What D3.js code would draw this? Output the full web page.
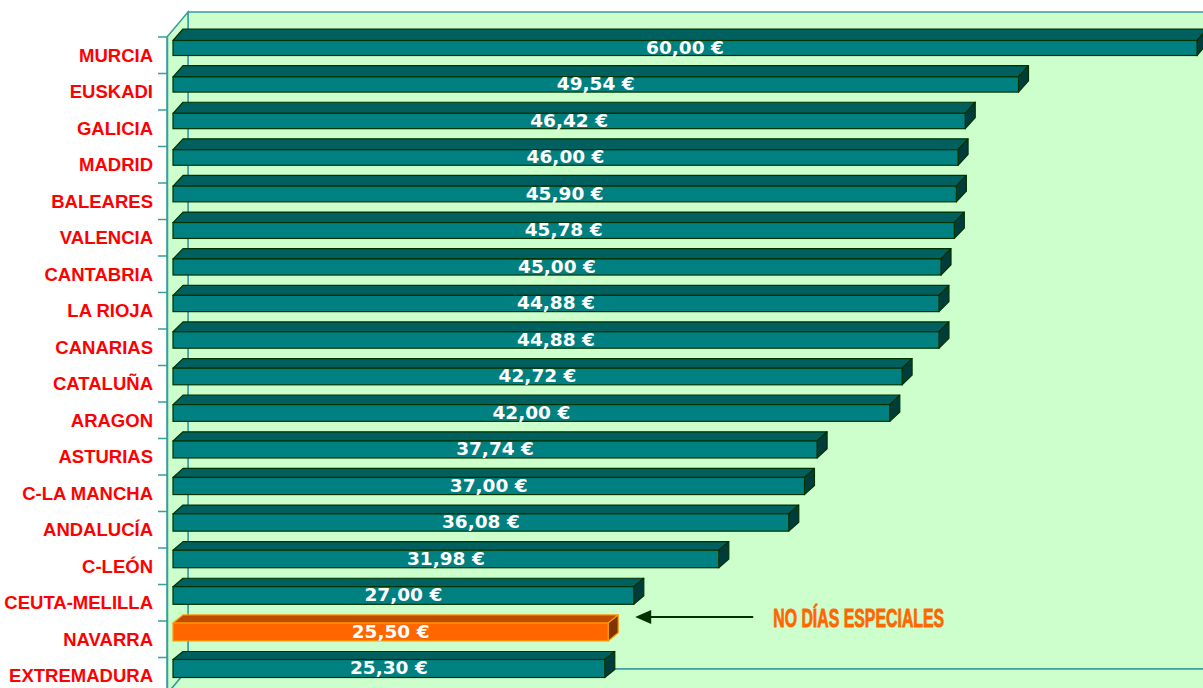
<!DOCTYPE html>
<html>
<head>
<meta charset="utf-8">
<script src="https://cdn.jsdelivr.net/npm/d3@7"></script>
<style>
  html, body { margin: 0; padding: 0; background: #ffffff; }
  svg { display: block; }
</style>
</head>
<body>
<svg id="chart" width="1203" height="688"></svg>
<script>
// ---- data ----
const categories = ["MURCIA","EUSKADI","GALICIA","MADRID","BALEARES","VALENCIA","CANTABRIA","LA RIOJA","CANARIAS","CATALUÑA","ARAGON","ASTURIAS","C-LA MANCHA","ANDALUCÍA","C-LEÓN","CEUTA-MELILLA","NAVARRA","EXTREMADURA"];
const values = [60.00, 49.54, 46.42, 46.00, 45.90, 45.78, 45.00, 44.88, 44.88, 42.72, 42.00, 37.74, 37.00, 36.08, 31.98, 27.00, 25.50, 25.30];
const highlighted = ["NAVARRA"];
const annotationText = "NO DÍAS ESPECIALES";
const valueDomain = [0, 60];

// ---- layout ----
const svg = d3.select("#chart");
const W = 1203, H = 688;
const x = d3.scaleLinear().domain(valueDomain).range([173, 1197]);
const y = d3.scaleBand().domain(categories).range([37, 37 + categories.length * 36.5]).padding(0);

const wallDX = 21, wallDY = 25;
const axisX = 167;
const yTop = y.range()[0], yBot = y.range()[1];

const wallFill = "#ccffcc", wallStroke = "#3a9c9c";

// back wall
svg.append("rect")
  .attr("x", axisX + wallDX).attr("y", yTop - wallDY)
  .attr("width", W).attr("height", (yBot - wallDY) - (yTop - wallDY))
  .attr("fill", wallFill).attr("stroke", wallStroke).attr("stroke-width", 1.5);
// left side wall
svg.append("polygon")
  .attr("points", [[axisX, yTop], [axisX + wallDX, yTop - wallDY], [axisX + wallDX, yBot - wallDY], [axisX, yBot]].map(p => p.join(",")).join(" "))
  .attr("fill", wallFill).attr("stroke", wallStroke).attr("stroke-width", 1.5);
// floor
svg.append("polygon")
  .attr("points", [[axisX, yBot], [axisX + wallDX, yBot - wallDY], [W + 30, yBot - wallDY], [W + 30, yBot]].map(p => p.join(",")).join(" "))
  .attr("fill", wallFill).attr("stroke", wallStroke).attr("stroke-width", 1.5);

// category axis (left)
const axis = d3.axisLeft(y).tickSize(0).tickPadding(14).tickFormat(d => d);
const axisG = svg.append("g").attr("transform", `translate(${axisX},0)`).call(axis);
axisG.select(".domain").attr("stroke", wallStroke).attr("stroke-width", 1.5);
axisG.selectAll("text")
  .attr("fill", "#ff0000")
  .attr("font-family", "'Liberation Sans', Arial, sans-serif")
  .attr("font-weight", "bold")
  .attr("font-size", "18.5px")
  .attr("dy", "0.36em");
// tick marks at band boundaries
const boundaries = categories.map(c => y(c)).concat([yBot]);
svg.append("g").selectAll("line").data(boundaries).join("line")
  .attr("x1", axisX - 9).attr("x2", axisX)
  .attr("y1", d => d).attr("y2", d => d)
  .attr("stroke", wallStroke).attr("stroke-width", 1.5);

// ---- 3D bars ----
const fmt = d3.formatLocale({decimal: ",", thousands: ".", grouping: [3], currency: ["", " €"]}).format("$.2f");
const n = categories.length;
const dx = 10;
const bars = categories.map((c, i) => {
  const t = y(c);
  const f = i / (n - 1);
  return {
    c, v: values[i], hi: highlighted.includes(c),
    back: t - 8 + 2 * f,
    top: t + 3.5 - 1.5 * f,
    bottom: t + 18.5 + 1.5 * f
  };
});
const teal = {front: "#008080", top: "#005f5f", side: "#003c3c", stroke: "#003300"};
const orange = {front: "#ff6600", top: "#bf4c00", side: "#7f3300", stroke: "#ff9900"};

const bg = svg.append("g");
bars.forEach(b => {
  const col = b.hi ? orange : teal;
  const x0 = x(0), x1 = x(b.v);
  const g = bg.append("g");
  // top face
  g.append("polygon")
    .attr("points", [[x0, b.top], [x0 + dx, b.back], [x1 + dx, b.back], [x1, b.top]].map(p => p.join(",")).join(" "))
    .attr("fill", col.top).attr("stroke", col.stroke).attr("stroke-width", 1.2).attr("stroke-linejoin", "round");
  // side face
  g.append("polygon")
    .attr("points", [[x1, b.top], [x1 + dx, b.back], [x1 + dx, b.bottom - (b.top - b.back)], [x1, b.bottom]].map(p => p.join(",")).join(" "))
    .attr("fill", col.side).attr("stroke", col.stroke).attr("stroke-width", 1.2).attr("stroke-linejoin", "round");
  // front face
  g.append("rect")
    .attr("x", x0).attr("y", b.top).attr("width", x1 - x0).attr("height", b.bottom - b.top)
    .attr("fill", col.front).attr("stroke", col.stroke).attr("stroke-width", 1.2);
  // value label
  g.append("text")
    .attr("x", (x0 + x1) / 2).attr("y", (b.top + b.bottom) / 2 - 1)
    .attr("dy", "0.36em")
    .attr("text-anchor", "middle")
    .attr("fill", "#ffffff")
    .attr("font-family", "'DejaVu Sans', Verdana, sans-serif")
    .attr("font-weight", "bold")
    .attr("font-size", "18.5px")
    .text(fmt(b.v));
});

// ---- annotation ----
const hb = bars.find(b => b.hi);
const tipX = x(hb.v) + 27, tailX = tipX + 118, ay = y(hb.c) - 4;
svg.append("line")
  .attr("x1", tipX + 10).attr("x2", tailX).attr("y1", ay).attr("y2", ay)
  .attr("stroke", "#003300").attr("stroke-width", 2);
svg.append("polygon")
  .attr("points", [[tipX, ay], [tipX + 16, ay - 7], [tipX + 16, ay + 7]].map(p => p.join(",")).join(" "))
  .attr("fill", "#003300");
svg.append("text")
  .attr("x", tailX + 20).attr("y", ay + 10)
  .attr("fill", "#ff6600")
  .attr("stroke", "#ff6600")
  .attr("stroke-width", 0.8)
  .attr("font-family", "'Liberation Sans', Arial, sans-serif")
  .attr("font-weight", "bold")
  .attr("font-size", "26px")
  .attr("textLength", 171)
  .attr("lengthAdjust", "spacingAndGlyphs")
  .text(annotationText);
</script>
</body>
</html>
